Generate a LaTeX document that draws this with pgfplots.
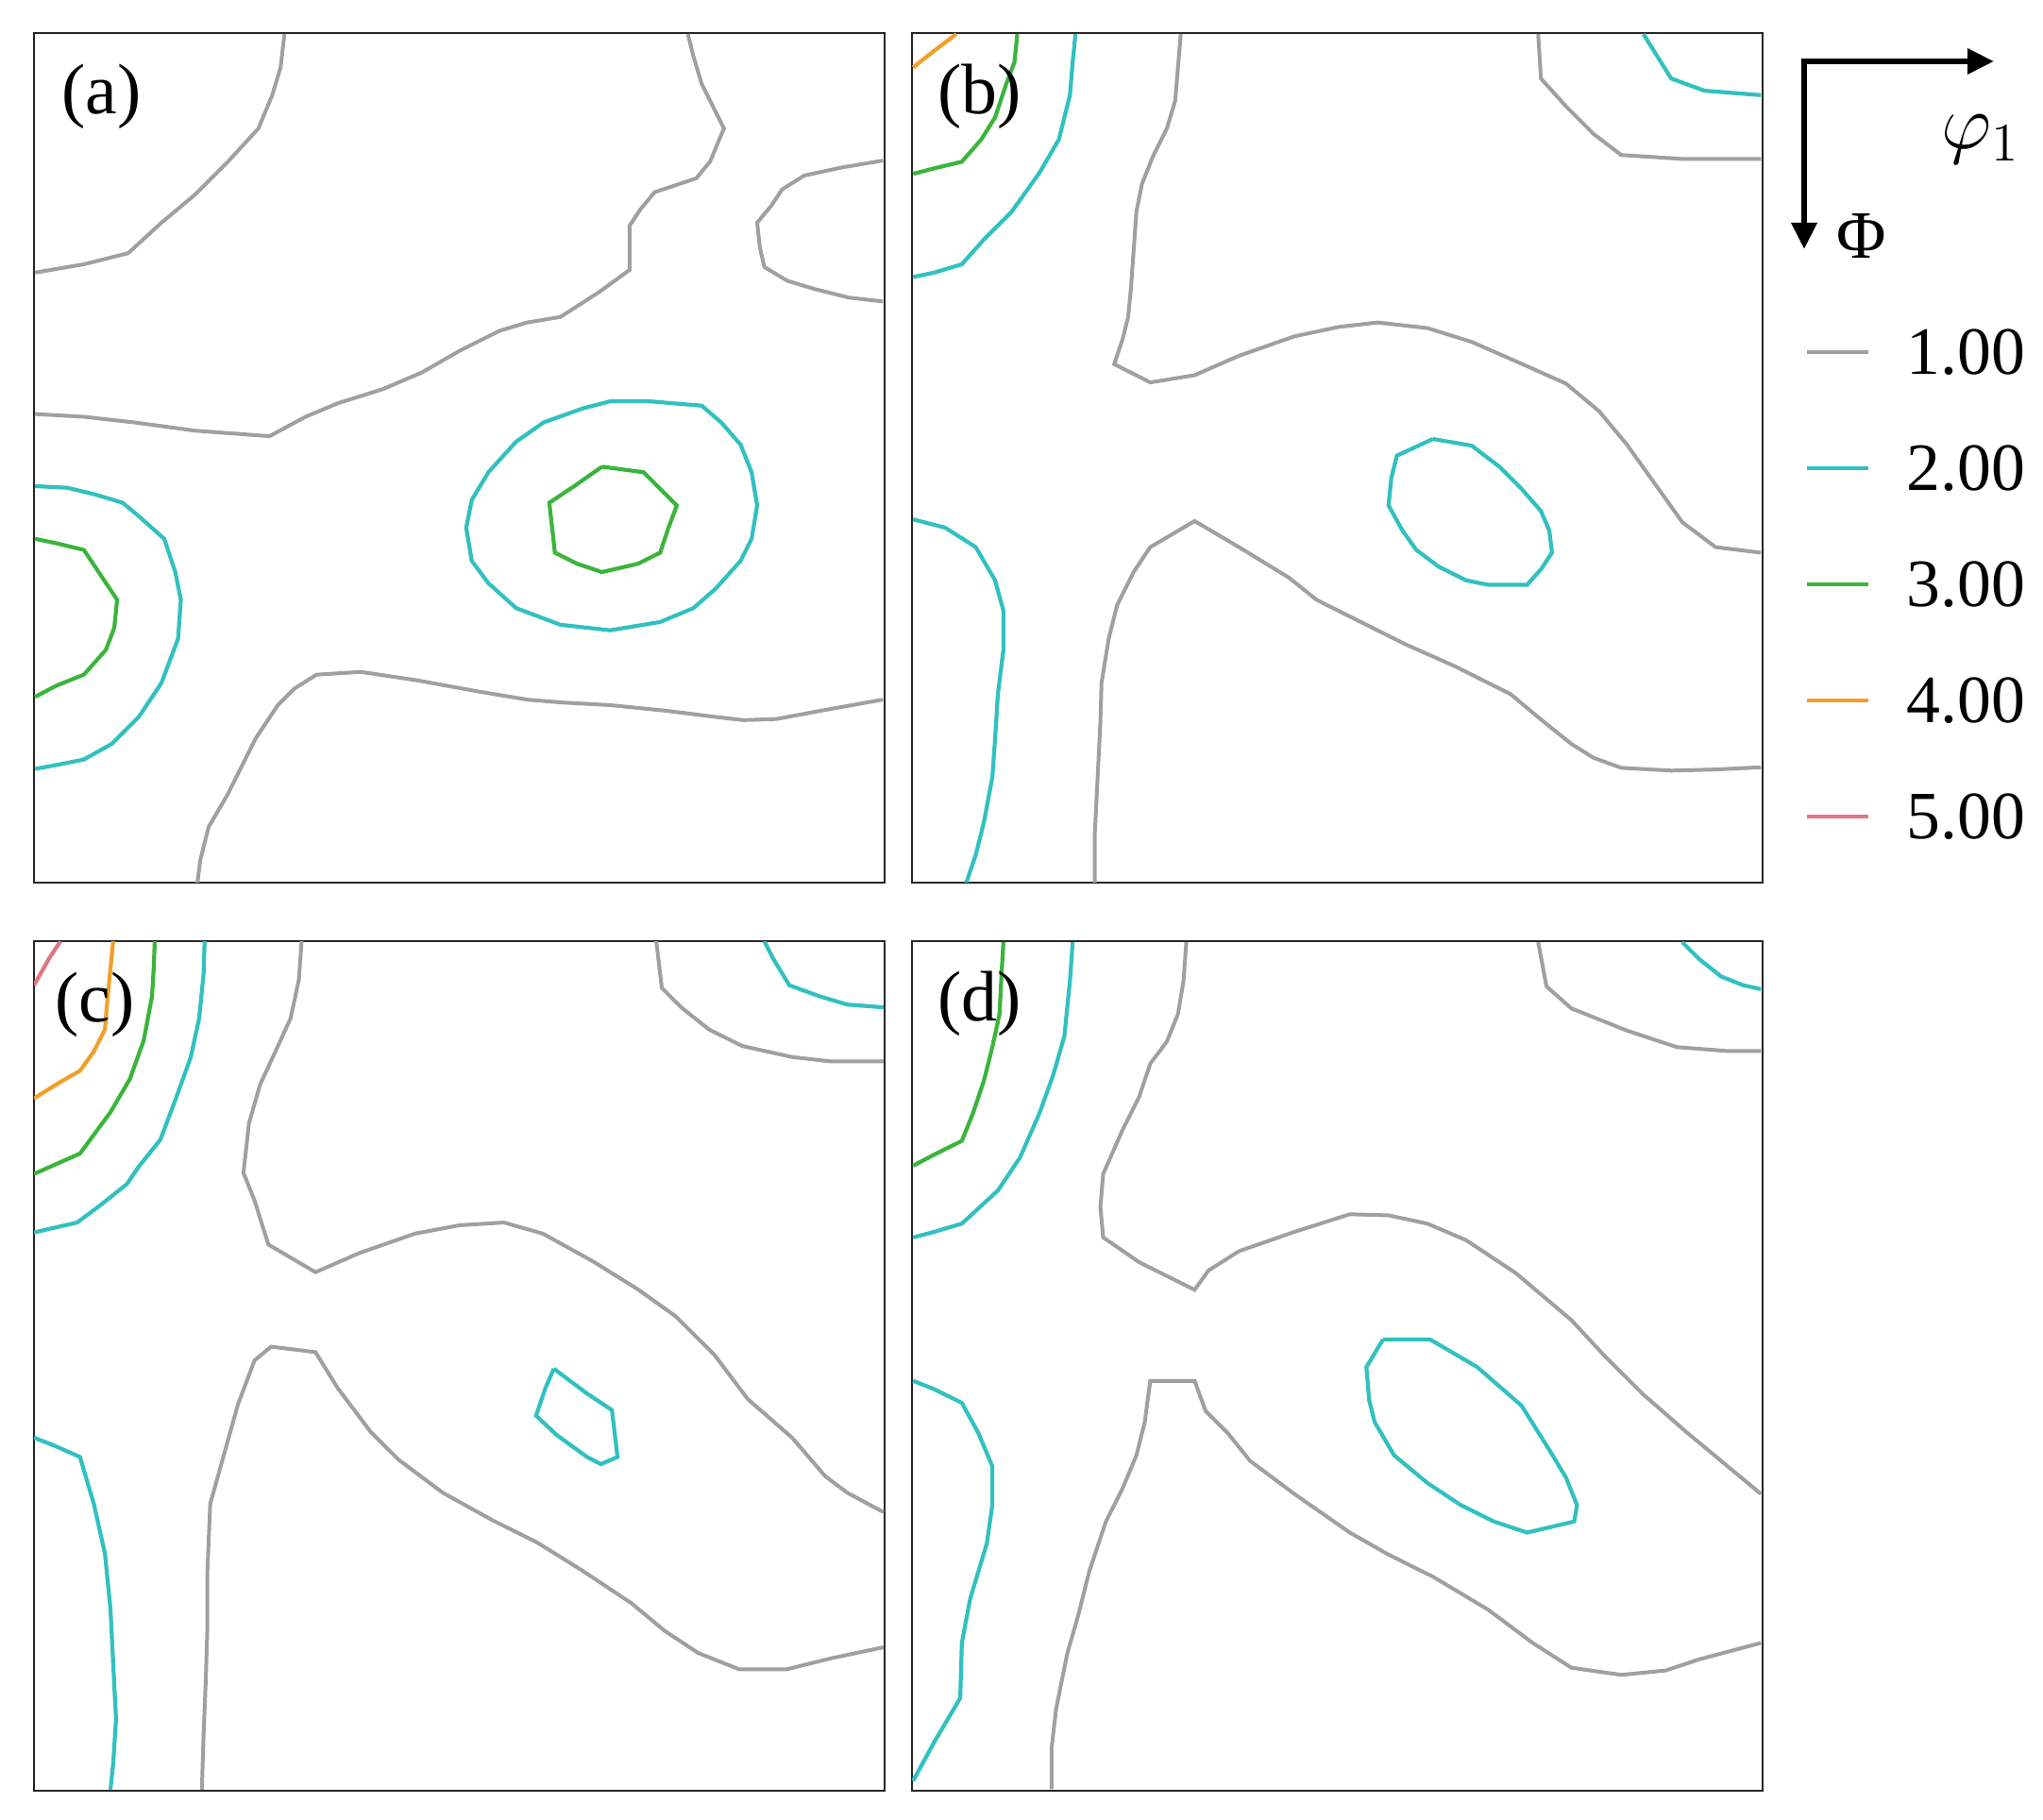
\documentclass[border=0pt]{standalone}
\usepackage{fontspec}
\setmainfont{Liberation Serif}
\usepackage{pgfplots}
\pgfplotsset{compat=1.18}
\usetikzlibrary{arrows.meta}

\definecolor{c1}{RGB}{160,160,160}
\definecolor{c2}{RGB}{50,192,192}
\definecolor{c3}{RGB}{60,180,60}
\definecolor{c4}{RGB}{240,160,40}
\definecolor{c5}{RGB}{222,120,130}

\pgfplotsset{
  panel/.style={
    scale only axis, width=225.25bp, height=225bp,
    y dir=reverse, ticks=none,
    axis line style={line width=0.65bp, black!85},
  },
  l1/.style={c1, line width=1bp, no markers, forget plot},
  l2/.style={c2, line width=1.05bp, no markers, forget plot},
  l3/.style={c3, line width=1.05bp, no markers, forget plot},
  l4/.style={c4, line width=1.05bp, no markers, forget plot},
  l5/.style={c5, line width=1.05bp, no markers, forget plot},
}

\begin{document}
\begin{tikzpicture}
\path[use as bounding box] (0,0) rectangle (541bp,482bp);

% ---------- (a)
\begin{axis}[panel, at={(9bp,248.25bp)}, anchor=south west,
  xmin=10, xmax=1545, ymin=8, ymax=1540]
\addplot[l1] coordinates {(462,10) (455,70) (440,120) (415,180) (360,240) (300,300) (240,350) (180,405) (100,425) (12,440)};
\addplot[l1] coordinates {(1190,10) (1200,50) (1215,100) (1255,180) (1230,240) (1205,270) (1130,295) (1105,325) (1085,355) (1085,435) (1030,475) (960,520) (900,530) (850,545) (780,580) (710,620) (640,650) (560,675) (500,700) (435,735) (300,725) (190,710) (100,700) (12,695)};
\addplot[l1] coordinates {(1542,238) (1470,250) (1400,265) (1360,290) (1340,320) (1315,350) (1320,395) (1328,430) (1370,455) (1420,470) (1480,485) (1542,492)};
\addplot[l1] coordinates {(305,1540) (310,1500) (325,1440) (360,1380) (385,1330) (410,1280) (450,1220) (480,1190) (520,1165) (600,1160) (700,1175) (810,1195) (900,1210) (960,1215) (1050,1220) (1150,1230) (1230,1240) (1290,1247) (1350,1245) (1430,1230) (1542,1210)};
\addplot[l2] coordinates {(12,825) (70,828) (120,840) (170,855) (200,880) (245,920) (265,980) (275,1030) (270,1100) (240,1180) (200,1240) (150,1290) (100,1318) (50,1328) (12,1335)};
\addplot[l3] coordinates {(12,920) (50,928) (100,940) (130,985) (160,1030) (155,1080) (140,1120) (100,1165) (50,1185) (12,1205)};
\addplot[l2] coordinates {(1120,672) (1215,680) (1250,710) (1285,750) (1305,800) (1315,860) (1305,920) (1285,960) (1240,1010) (1200,1045) (1140,1070) (1050,1085) (960,1075) (880,1045) (830,1000) (800,960) (790,900) (800,850) (830,800) (880,745) (930,710) (1000,685) (1050,672) (1120,672)};
\addplot[l3] coordinates {(1035,790) (1110,800) (1140,830) (1170,860) (1155,900) (1140,945) (1100,965) (1035,980) (990,965) (950,945) (945,900) (940,855) (985,825) (1035,790)};
\node[font=\fontsize{19}{22}\selectfont] at (axis cs:132,122) {(a)};
\end{axis}

% ---------- (b)
\begin{axis}[panel, at={(241.5bp,248.25bp)}, anchor=south west,
  xmin=10, xmax=1545, ymin=8, ymax=1540,
  legend style={at={(1.049,0.352)}, anchor=west, draw=none, fill=none,
    inner sep=0pt, row sep=18.75bp,
    font=\fontsize{18}{21}\selectfont,
    nodes={inner sep=0pt, text height=12bp, text depth=0pt},
    /tikz/every odd column/.append style={column sep=9.75bp}},
  legend cell align=left,
  legend image code/.code={\draw[#1, line width=1bp] (0bp,-0.3bp) -- (16.25bp,-0.3bp);}]
\addplot[l4] coordinates {(12,70) (50,40) (90,10)};
\addplot[l3] coordinates {(200,10) (195,60) (180,100) (160,160) (135,200) (100,240) (50,252) (12,262)};
\addplot[l2] coordinates {(305,10) (300,60) (295,120) (275,200) (240,260) (190,330) (140,380) (100,425) (50,440) (12,448)};
\addplot[l1] coordinates {(495,10) (490,70) (485,130) (470,180) (445,230) (425,280) (415,330) (410,400) (405,470) (400,520) (390,560) (375,605) (440,638) (520,625) (600,590) (700,555) (780,538) (850,530) (940,540) (1020,565) (1100,600) (1190,640) (1250,690) (1300,750) (1350,820) (1400,890) (1460,935) (1542,945)};
\addplot[l1] coordinates {(340,1540) (340,1450) (345,1350) (350,1250) (352,1180) (365,1100) (380,1040) (410,980) (440,935) (520,888) (600,935) (690,990) (740,1030) (810,1065) (900,1110) (990,1150) (1090,1200) (1150,1250) (1200,1290) (1240,1315) (1290,1333) (1380,1338) (1460,1336) (1542,1332)};
\addplot[l1] coordinates {(1140,10) (1145,90) (1190,140) (1240,190) (1290,228) (1400,235) (1542,235)};
\addplot[l2] coordinates {(1330,10) (1355,50) (1380,90) (1440,112) (1542,120)};
\addplot[l2] coordinates {(12,885) (70,900) (125,935) (160,995) (175,1050) (175,1120) (165,1200) (160,1280) (155,1350) (140,1430) (125,1490) (108,1540)};
\addplot[l2] coordinates {(950,740) (1020,752) (1070,790) (1110,830) (1145,870) (1160,905) (1165,945) (1145,975) (1120,1003) (1050,1003) (1010,995) (960,970) (920,940) (895,905) (870,860) (875,810) (885,770) (950,740)};
\node[font=\fontsize{19}{22}\selectfont] at (axis cs:132,122) {(b)};
\addlegendimage{c1}\addlegendentry{1.00}
\addlegendimage{c2}\addlegendentry{2.00}
\addlegendimage{c3}\addlegendentry{3.00}
\addlegendimage{c4}\addlegendentry{4.00}
\addlegendimage{c5}\addlegendentry{5.00}
\end{axis}

% ---------- (c)
\begin{axis}[panel, at={(9bp,7.75bp)}, anchor=south west,
  xmin=12, xmax=1547, ymin=10, ymax=1550]
\addplot[l5] coordinates {(12,90) (40,40) (60,10)};
\addplot[l4] coordinates {(155,10) (150,60) (145,110) (140,170) (120,210) (95,245) (60,265) (12,295)};
\addplot[l3] coordinates {(230,10) (228,60) (225,110) (210,190) (185,260) (150,320) (95,395) (50,415) (12,432)};
\addplot[l2] coordinates {(320,10) (318,70) (310,150) (295,220) (270,290) (240,370) (200,420) (180,450) (130,490) (90,520) (12,538)};
\addplot[l1] coordinates {(495,10) (490,80) (475,150) (450,205) (420,270) (400,340) (390,430) (410,480) (435,560) (520,610) (600,575) (700,540) (780,525) (860,520) (930,540) (1020,590) (1100,640) (1170,690) (1240,760) (1300,840) (1380,910) (1440,980) (1480,1010) (1545,1045)};
\addplot[l1] coordinates {(315,1548) (318,1450) (322,1350) (325,1250) (325,1150) (330,1030) (355,940) (380,850) (410,770) (440,745) (520,755) (560,820) (620,900) (670,950) (750,1010) (840,1060) (920,1100) (1000,1150) (1090,1210) (1150,1260) (1210,1300) (1285,1330) (1370,1330) (1450,1310) (1545,1290)};
\addplot[l1] coordinates {(1135,10) (1145,95) (1180,130) (1230,170) (1290,200) (1380,220) (1450,228) (1545,228)};
\addplot[l2] coordinates {(1330,10) (1345,40) (1375,90) (1430,110) (1480,125) (1545,130)};
\addplot[l2] coordinates {(12,910) (50,925) (95,945) (120,1030) (140,1120) (150,1220) (155,1320) (160,1420) (155,1500) (150,1548)};
\addplot[l2] coordinates {(950,785) (1010,830) (1055,860) (1065,945) (1035,958) (1010,945) (955,905) (918,870) (935,820) (950,785)};
\node[font=\fontsize{19}{22}\selectfont] at (axis cs:122,125) {(c)};
\end{axis}

% ---------- (d)
\begin{axis}[panel, at={(241.5bp,7.75bp)}, anchor=south west,
  xmin=10, xmax=1545, ymin=8, ymax=1548]
\addplot[l3] coordinates {(175,10) (172,60) (168,140) (155,200) (140,260) (120,320) (100,370) (50,395) (12,415)};
\addplot[l2] coordinates {(300,10) (295,80) (285,180) (265,250) (240,320) (205,400) (165,460) (100,520) (50,535) (12,545)};
\addplot[l1] coordinates {(505,10) (500,80) (490,140) (470,190) (440,230) (420,290) (390,350) (355,430) (350,490) (355,545) (420,590) (520,640) (545,605) (600,570) (700,535) (800,503) (870,505) (940,520) (1010,550) (1100,610) (1200,695) (1260,760) (1330,830) (1410,900) (1470,950) (1542,1010)};
\addplot[l1] coordinates {(262,1545) (262,1470) (270,1400) (290,1300) (310,1230) (330,1150) (360,1060) (390,1000) (415,940) (430,880) (440,805) (520,805) (540,860) (580,900) (620,950) (700,1010) (800,1080) (870,1120) (950,1160) (1050,1220) (1130,1280) (1200,1325) (1290,1338) (1370,1330) (1430,1310) (1542,1280)};
\addplot[l1] coordinates {(1140,10) (1155,90) (1200,130) (1250,150) (1300,170) (1390,200) (1480,207) (1542,207)};
\addplot[l2] coordinates {(1400,10) (1430,40) (1470,72) (1510,88) (1542,95)};
\addplot[l2] coordinates {(12,805) (50,820) (100,845) (130,900) (155,960) (155,1030) (145,1100) (115,1200) (100,1280) (97,1380) (50,1460) (12,1530)};
\addplot[l2] coordinates {(860,730) (945,730) (1030,780) (1110,850) (1160,930) (1190,980) (1210,1030) (1205,1060) (1120,1080) (1060,1060) (1000,1030) (940,990) (880,940) (845,880) (835,840) (830,780) (860,730)};
\node[font=\fontsize{19}{22}\selectfont] at (axis cs:132,122) {(d)};
\end{axis}

% ---------- orientation arrows
\draw[line width=1.6bp, -{Triangle[length=7bp,width=6.5bp]}] (477bp,465.75bp) -- (528bp,465.75bp);
\draw[line width=1.6bp, -{Triangle[length=7bp,width=6.5bp]}] (477.75bp,466.5bp) -- (477.75bp,416bp);
\node[font=\fontsize{20}{24}\selectfont] at (524.5bp,445bp) {$\varphi_1$};
\node[font=\fontsize{18}{21}\selectfont] at (493bp,419.5bp) {Φ};
\end{tikzpicture}
\end{document}
